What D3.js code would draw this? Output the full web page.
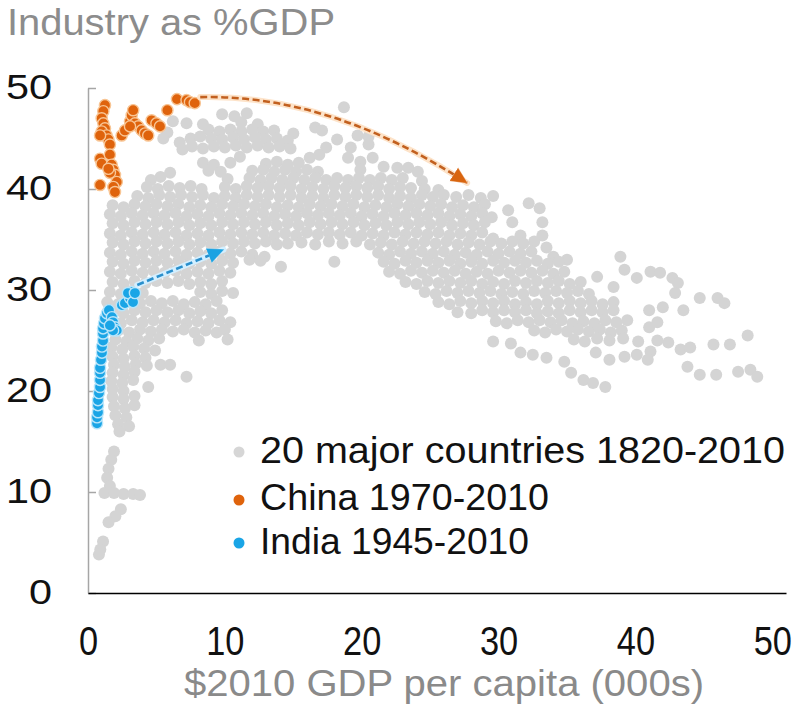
<!DOCTYPE html>
<html><head><meta charset="utf-8">
<script src="https://cdn.jsdelivr.net/npm/d3@7"></script>
<style>body{margin:0;background:#fff}svg{display:block;font-family:"Liberation Sans",Arial,sans-serif}</style>
</head><body>
<svg id="chart" width="808" height="705"></svg>
<script>
const xTicks=[0,10,20,30,40,50];
const yTicks=[0,10,20,30,40,50];
const legendLabels=["20 major countries 1820-2010","China 1970-2010","India 1945-2010"];
const titleText="Industry as %GDP";
const xTitleText="$2010 GDP per capita (000s)";

// 20 major countries 1820-2010: [GDP per capita (000s), industry % GDP]
const grayUpper=[[18.7,48.1],
[9.8,47.4],[10.7,47.2],[11.6,47.5],
[6.2,46.7],[7.2,46.5],[8.4,46.4],[11.2,46.6],[12.4,46.4],[16.6,46.1],
[5.8,45.6],[8.8,45.9],[9.6,45.7],[10.4,45.9],[11.2,45.7],[12.0,45.9],[12.8,45.7],[13.6,45.8],[15.0,45.5],[17.1,45.8],[19.7,45.3],[20.5,45.2],
[5.5,45.0],[6.7,44.6],[7.5,45.0],[8.2,45.2],[9.0,45.0],[9.8,44.9],[10.6,45.1],[11.4,44.9],[12.2,45.1],[13.0,44.9],[13.8,45.0],[14.6,44.8],[18.2,44.9],
[6.9,43.9],[7.6,44.2],[8.4,44.0],[9.2,44.2],[10.0,44.1],[10.8,44.3],[11.6,44.1],[12.4,44.3],[13.2,44.1],[14.0,44.2],[14.8,44.0],[17.4,44.1],[19.2,44.1],[20.5,44.4],
[11.1,43.2],[16.2,43.1],[16.9,43.4],[19.0,43.1],[20.8,43.1],
[8.4,42.6],[9.2,42.4],[10.4,42.6],[13.0,42.5],[13.8,42.7],[14.6,42.4],[15.4,42.6],[19.9,42.7],
[5.3,41.2],[6.0,41.6],[8.8,41.8],[9.7,41.7],[12.0,41.8],[12.8,41.9],[13.6,41.7],[14.4,41.9],[15.2,41.7],[16.0,41.9],[16.8,41.7],[19.9,41.9],[21.6,42.2],[22.6,42.1],[23.4,42.1],[24.1,41.7],
[4.6,40.9],[10.2,41.0],[11.8,41.1],[12.6,40.9],[13.4,41.1],[14.2,40.9],[15.0,41.1],[15.8,40.9],[16.6,41.1],[17.4,40.9],[18.2,41.1],[19.0,40.9],[19.8,41.1],[20.6,40.9],[21.4,41.1],[22.2,40.9],[23.0,41.1],[24.4,40.8]];

const grayCore=[
[4.3,40.2],[5.1,40.0],[5.9,40.3],[6.7,40.1],[7.5,40.3],[8.3,40.0],[10.0,40.2],[10.8,40.0],[11.6,40.3],[12.4,40.1],[13.2,40.3],[14.0,40.1],[14.8,40.3],[15.6,40.0],[16.4,40.2],[17.2,40.0],[18.0,40.3],[18.8,40.1],[19.6,40.3],[20.4,40.1],[21.2,40.3],[22.0,40.0],[22.8,40.2],[23.6,40.1],[24.6,40.0],[25.6,39.9],
[3.6,39.3],[4.4,39.1],[5.2,39.4],[6.0,39.2],[6.8,39.4],[7.6,39.2],[8.4,39.4],[9.2,39.1],[10.0,39.3],[10.8,39.1],[11.6,39.4],[12.4,39.2],[13.2,39.4],[14.0,39.2],[14.8,39.4],[15.6,39.1],[16.4,39.3],[17.2,39.1],[18.0,39.4],[18.8,39.2],[19.6,39.4],[20.4,39.2],[21.2,39.4],[22.0,39.1],[22.8,39.3],[23.6,39.1],[24.4,39.4],[25.2,39.2],[26.0,39.4],[26.9,39.2],[27.8,39.4],[28.7,39.1],[29.6,39.3],
[1.8,38.4],[2.6,38.2],[3.4,38.5],[4.2,38.3],[5.0,38.5],[5.8,38.3],[6.6,38.5],[7.4,38.2],[8.2,38.4],[9.0,38.2],[9.8,38.5],[10.6,38.3],[11.4,38.5],[12.2,38.3],[13.0,38.5],[13.8,38.2],[14.6,38.4],[15.4,38.2],[16.2,38.5],[17.0,38.3],[17.8,38.5],[18.6,38.3],[19.4,38.5],[20.2,38.2],[21.0,38.4],[21.8,38.2],[22.6,38.5],[23.4,38.3],[24.2,38.5],[25.0,38.3],[25.8,38.5],[26.6,38.2],[27.4,38.4],[28.2,38.2],[29.0,38.5],[30.7,37.9],[32.2,38.6],[33.0,38.1],
[1.6,37.5],[2.4,37.3],[3.2,37.6],[4.0,37.4],[4.8,37.6],[5.6,37.4],[6.4,37.6],[7.2,37.3],[8.0,37.5],[8.8,37.3],[9.6,37.6],[10.4,37.4],[11.2,37.6],[12.0,37.4],[12.8,37.6],[13.6,37.3],[14.4,37.5],[15.2,37.3],[16.0,37.6],[16.8,37.4],[17.6,37.6],[18.4,37.4],[19.2,37.6],[20.0,37.3],[20.8,37.5],[21.6,37.3],[22.4,37.6],[23.2,37.4],[24.0,37.6],[24.8,37.4],[25.6,37.6],[26.4,37.3],[27.2,37.5],[28.0,37.3],[28.8,37.6],[29.5,37.2],
[1.8,36.6],[2.6,36.4],[3.4,36.7],[4.2,36.5],[5.0,36.7],[5.8,36.5],[6.6,36.7],[7.4,36.4],[8.2,36.6],[9.0,36.4],[9.8,36.7],[10.6,36.5],[11.4,36.7],[12.2,36.5],[13.0,36.7],[13.8,36.4],[14.6,36.6],[15.4,36.4],[16.2,36.7],[17.0,36.5],[17.8,36.7],[18.6,36.5],[19.4,36.7],[20.2,36.4],[21.0,36.6],[21.8,36.4],[22.6,36.7],[23.4,36.5],[24.2,36.7],[25.0,36.5],[25.8,36.7],[26.6,36.4],[27.4,36.6],[28.2,36.4],[29.0,36.7],[31.0,36.7],[33.2,36.7],
[1.6,35.6],[2.4,35.4],[3.2,35.7],[4.0,35.5],[4.8,35.7],[5.6,35.5],[6.4,35.7],[7.2,35.4],[8.0,35.6],[8.8,35.4],[9.6,35.7],[10.4,35.5],[11.2,35.7],[12.0,35.5],[12.8,35.7],[13.6,35.4],[14.4,35.6],[15.2,35.4],[16.0,35.7],[16.8,35.5],[17.6,35.7],[18.4,35.5],[19.2,35.7],[20.0,35.4],[20.8,35.6],[21.6,35.4],[22.4,35.7],[23.2,35.5],[24.0,35.7],[24.8,35.5],[25.6,35.7],[26.4,35.4],[27.2,35.6],[28.0,35.4],[28.8,35.7],[29.6,35.1],[31.6,35.4],[33.2,35.4],
[1.8,34.7],[2.6,34.5],[3.4,34.8],[4.2,34.6],[5.0,34.8],[5.8,34.6],[6.6,34.8],[7.4,34.5],[8.2,34.7],[9.0,34.5],[9.8,34.8],[10.6,34.6],[11.4,34.8],[12.2,34.6],[13.0,34.8],[13.8,34.5],[14.6,34.6],[15.6,34.7],[16.6,34.5],[17.6,34.8],[18.6,34.6],[19.6,34.8],[20.6,34.5],[21.4,34.7],[22.2,34.5],[23.0,34.8],[23.8,34.6],[24.6,34.8],[25.4,34.6],[26.2,34.8],[27.0,34.5],[27.8,34.7],[28.6,34.5],[29.4,34.8],[30.2,34.6],[31.0,34.8],[31.8,34.6],[32.6,34.8],[33.5,34.2]];

const grayMid=[
[1.6,33.7],[2.4,33.5],[3.2,33.8],[4.0,33.6],[4.8,33.8],[5.6,33.6],[6.4,33.8],[7.2,33.5],[8.0,33.7],[8.8,33.5],[9.6,33.8],[10.4,33.6],[11.2,33.8],[12.0,33.5],[12.9,33.3],[21.2,33.7],[22.0,33.5],[22.8,33.8],[23.6,33.6],[24.4,33.8],[25.2,33.6],[26.0,33.8],[26.8,33.5],[27.6,33.7],[28.4,33.5],[29.2,33.8],[30.0,33.6],[30.8,33.8],[31.6,33.6],[32.4,33.8],[34.0,33.3],[35.0,33.0],
[1.8,32.8],[2.6,32.6],[3.4,32.9],[4.2,32.7],[5.0,32.9],[5.8,32.7],[6.6,32.9],[7.4,32.6],[8.2,32.8],[9.0,32.6],[9.8,32.9],[10.6,32.7],[11.8,33.0],[12.6,32.9],[14.1,32.3],[18.0,32.8],[21.6,32.8],[22.4,32.6],[23.2,32.9],[24.0,32.7],[24.8,32.9],[25.6,32.7],[26.4,32.9],[27.2,32.6],[28.0,32.8],[28.8,32.6],[29.6,32.9],[30.4,32.7],[31.2,32.9],[32.0,32.7],[32.8,32.9],[33.6,32.6],[34.4,32.8],[38.9,33.3],
[1.6,31.8],[2.4,31.6],[3.2,31.9],[4.0,31.7],[4.8,31.9],[5.6,31.7],[6.4,31.9],[7.2,31.6],[8.0,31.8],[8.8,31.6],[9.6,31.9],[10.4,31.7],[22.0,31.8],[22.8,31.6],[23.6,31.9],[24.4,31.7],[25.2,31.9],[26.0,31.7],[26.8,31.9],[27.6,31.6],[28.4,31.8],[29.2,31.6],[30.0,31.9],[30.8,31.7],[31.6,31.9],[32.4,31.7],[33.2,31.9],[34.0,31.6],[34.8,31.8],[39.2,32.0],[41.1,31.8],[41.8,31.7],
[1.8,30.8],[2.6,30.6],[3.4,30.9],[4.2,30.7],[5.0,30.9],[5.8,30.7],[6.6,30.9],[7.4,30.6],[8.2,30.8],[9.0,30.6],[9.8,30.9],[23.2,30.8],[24.0,30.6],[24.8,30.9],[25.6,30.7],[26.4,30.9],[27.2,30.7],[28.0,30.9],[28.8,30.6],[29.6,30.8],[30.4,30.6],[31.2,30.9],[32.0,30.7],[32.8,30.9],[33.6,30.7],[34.4,30.9],[35.2,30.6],[36.0,30.8],[37.2,31.3],[40.1,31.2],[42.7,31.2],[43.1,30.7],
[1.6,29.8],[2.4,29.6],[3.2,29.9],[4.0,29.7],[8.2,29.8],[9.0,29.6],[9.8,29.9],[10.6,29.7],[24.6,29.8],[25.4,29.6],[26.2,29.9],[27.0,29.7],[27.8,29.9],[28.6,29.7],[29.4,29.9],[30.2,29.6],[31.0,29.8],[31.8,29.6],[32.6,29.9],[33.4,29.7],[34.2,29.9],[35.0,29.7],[35.8,29.9],[36.6,29.6],[38.4,30.3],[42.9,29.7],
[1.4,28.8],[2.2,28.6],[3.0,28.9],[3.8,28.7],[4.6,28.9],[5.4,28.7],[6.2,28.9],[7.0,28.6],[7.8,28.8],[8.6,28.6],[9.4,28.9],[25.6,28.8],[26.4,28.6],[27.2,28.9],[28.0,28.7],[28.8,28.9],[29.6,28.7],[30.4,28.9],[31.2,28.6],[32.0,28.8],[32.8,28.6],[33.6,28.9],[34.4,28.7],[35.2,28.9],[36.0,28.7],[36.8,28.9],[37.6,28.6],[38.4,28.8],[44.7,29.2],[46.0,29.2],[46.5,28.7],
[1.8,27.9],[2.6,27.7],[3.4,28.0],[4.2,27.8],[5.0,28.0],[5.8,27.8],[6.6,28.0],[7.4,27.7],[8.2,27.9],[9.0,27.7],[9.8,28.0],[27.0,27.8],[28.0,27.7],[28.8,28.0],[29.6,27.8],[30.4,28.0],[31.2,27.8],[32.0,28.0],[32.8,27.7],[33.6,27.9],[34.4,27.7],[35.2,28.0],[36.0,27.8],[36.8,28.0],[37.6,27.8],[38.4,28.0],[41.0,28.0],[42.0,28.3],[43.5,28.0],
[1.6,26.9],[2.4,26.7],[3.2,27.0],[4.0,26.8],[4.8,27.0],[5.6,26.8],[6.4,27.0],[7.2,26.7],[8.0,26.9],[8.8,26.7],[9.6,27.0],[10.4,26.8],[29.8,26.9],[30.6,26.7],[31.4,27.0],[32.2,26.8],[33.0,27.0],[33.8,26.8],[34.6,27.0],[35.4,26.7],[36.2,26.9],[37.0,26.7],[37.8,27.0],[38.6,26.8],[39.4,27.0],[41.6,26.8]];

const grayLow=[
[2.2,26.0],[3.0,25.8],[3.8,26.1],[4.6,25.9],[5.4,26.1],[6.2,25.9],[7.0,26.1],[7.8,25.8],[8.6,26.0],[9.4,25.8],[10.0,26.1],[32.6,26.0],[33.4,25.8],[34.2,26.1],[35.0,25.9],[35.8,26.1],[36.6,25.9],[37.4,26.1],[38.2,25.8],[39.0,26.0],[41.0,26.3],
[2.0,25.1],[2.8,24.9],[3.6,25.2],[4.4,25.0],[5.2,25.2],[8.1,25.0],[10.2,25.1],[29.6,24.9],[30.9,24.7],[35.5,25.1],[36.3,24.9],[37.2,25.2],[38.1,25.0],[39.1,25.2],[40.2,24.9],[41.6,25.0],[42.4,24.8],[48.2,25.5],
[1.7,24.3],[2.5,24.1],[3.3,24.4],[4.1,24.2],[4.9,24.0],[31.6,23.8],[32.5,23.6],[37.1,23.8],[43.3,24.1],[44.0,24.3],[45.7,24.6],[46.9,24.6],
[1.8,23.4],[2.6,23.2],[3.4,23.5],[4.2,23.3],[33.5,23.3],[34.8,22.9],[38.1,23.1],[39.2,23.4],[40.1,23.6],[41.1,23.9],[40.9,23.1],
[1.9,22.6],[2.7,22.4],[3.5,22.7],[4.3,22.5],[5.3,22.6],[6.0,22.6],[43.8,22.4],
[1.8,21.8],[2.6,21.6],[3.4,21.9],[7.2,21.4],[35.3,21.8],[44.7,21.6],[45.9,21.6],[47.5,21.9],[48.4,22.1],
[1.7,21.0],[2.5,20.8],[3.3,21.1],[36.2,21.1],[36.9,20.8],[48.9,21.4],
[1.8,20.2],[2.6,20.0],[4.4,20.4],[37.8,20.4],
[1.8,19.4],[2.6,19.2],[3.4,19.5],[1.9,18.5],[2.7,18.3],[3.4,18.6],
[2.0,17.6],[2.8,17.4],[2.2,16.7],[3.0,16.5],[2.3,16.0],
[1.9,14.0],[1.7,13.2],[1.5,12.3],[1.4,11.4],[1.6,10.6],[1.2,9.9],[1.9,9.9],[2.6,9.8],[3.3,9.8],[3.8,9.7],
[2.4,8.3],[2.0,7.6],[1.5,7.0],[1.1,5.1],[0.9,4.3],[0.8,3.8]];

const china=[[1.24,48.3],[1.12,47.7],[1.0,47.0],[1.12,46.5],[1.24,46.0],[1.0,45.7],[1.36,45.3],[1.49,44.9],[1.6,44.4],[0.88,45.3],
[0.88,43.0],[1.0,42.5],[1.6,43.4],[1.73,42.4],[1.85,41.9],[1.97,41.4],[1.6,41.6],[2.1,40.7],[0.88,40.4],[1.85,40.2],[1.97,39.7],[1.49,42.0],
[2.46,45.3],[2.7,45.8],[3.07,46.7],[3.19,47.3],[3.3,47.8],[3.43,46.5],[3.67,46.2],[3.92,45.8],[4.16,45.5],[4.4,45.3],[3.07,46.2],
[4.65,46.8],[5.0,46.5],[5.26,46.2],[5.8,47.8],[6.5,48.9],[7.2,48.8],[7.45,48.6],[7.8,48.5]];

const india=[[0.66,16.8],[0.66,17.4],[0.73,17.9],[0.73,18.6],[0.73,19.1],[0.8,19.8],[0.88,20.4],[0.88,21.1],[0.88,21.8],[0.88,22.3],
[0.95,23.1],[1.02,23.8],[1.02,24.4],[1.1,25.0],[1.1,25.7],[1.1,26.2],[1.17,26.7],[1.24,27.2],[1.39,27.7],[1.53,28.0],
[1.75,27.3],[1.83,26.8],[1.97,26.3],[2.1,26.0],[1.83,26.0],[1.6,26.5],[2.48,28.5],[2.7,28.7],[3.07,29.2],[3.2,29.8],[2.92,29.7],[3.29,28.8],[3.43,29.7]];

const chinaArrow=[[8.2,49.1],[17.7,49.4],[27.7,40.6]];
const indiaArrow=[[3.6,30.5],[9.9,34.0]];

const svg=d3.select("#chart");
const x=d3.scaleLinear().domain([0,51]).range([88,786]);
const y=d3.scaleLinear().domain([0,50]).range([593,88]);

// title
svg.append("text").attr("x",7).attr("y",35).attr("font-size",37).attr("fill","#8c8c8c")
  .attr("textLength",328).attr("lengthAdjust","spacingAndGlyphs").text(titleText);

// y axis
const gy=svg.append("g").attr("transform",`translate(${x(0)},0)`)
  .call(d3.axisLeft(y).tickValues(yTicks).tickSizeInner(-8).tickSizeOuter(0).tickPadding(36).tickFormat(d3.format("d")));
gy.select(".domain").attr("stroke","#a6a6a6").attr("stroke-width",1.5);
gy.selectAll(".tick line").attr("stroke","#a6a6a6").attr("stroke-width",1.5);
gy.selectAll(".tick text").attr("font-size",36).attr("fill","#111").attr("font-family","Liberation Sans, Arial, sans-serif")
  .attr("x",0).attr("dy","0.28em").attr("transform","translate(-36,0) scale(1.15,1)");

// x axis
const gx=svg.append("g").attr("transform",`translate(0,${y(0)})`)
  .call(d3.axisBottom(x).tickValues(xTicks).tickSize(0).tickSizeOuter(0).tickFormat(d3.format("d")));
gx.select(".domain").attr("stroke","#000").attr("stroke-width",1.5);
gx.selectAll(".tick text").attr("font-size",40).attr("fill","#111").attr("font-family","Liberation Sans, Arial, sans-serif")
  .attr("y",0).attr("dy",0).attr("transform","translate(0,62) scale(0.86,1)");

// x title
svg.append("text").attr("x",184).attr("y",696).attr("font-size",36).attr("fill","#8a8a8a")
  .attr("textLength",520).attr("lengthAdjust","spacingAndGlyphs").text(xTitleText);

// gray points
const gray=[].concat(grayUpper,grayCore,grayMid,grayLow);
svg.append("g").selectAll("circle").data(gray).join("circle")
  .attr("cx",d=>x(d[0])).attr("cy",d=>y(d[1])).attr("r",6).attr("fill","#d4d4d4");

// china
svg.append("g").selectAll("circle").data(china).join("circle")
  .attr("cx",d=>x(d[0])).attr("cy",d=>y(d[1])).attr("r",5.6).attr("fill","#df630c")
  .attr("stroke","#f8c594").attr("stroke-width",1.4);
// india
svg.append("g").selectAll("circle").data(india).join("circle")
  .attr("cx",d=>x(d[0])).attr("cy",d=>y(d[1])).attr("r",5.6).attr("fill","#1aa5e6")
  .attr("stroke","#b9e5fa").attr("stroke-width",1.4);

// arrow markers
const defs=svg.append("defs");
function marker(id,fill){
  defs.append("marker").attr("id",id).attr("viewBox","0 -9 18 18").attr("refX",16).attr("refY",0)
    .attr("markerWidth",18).attr("markerHeight",18).attr("markerUnits","userSpaceOnUse").attr("orient","auto")
    .append("path").attr("d","M0,-8L17,0L0,8Z").attr("fill",fill).attr("stroke","#ffffff").attr("stroke-opacity",0.3);
}
marker("arrO","#d9650f");marker("arrB","#1ba2e2");

const cp=d3.path();
cp.moveTo(x(chinaArrow[0][0]),y(chinaArrow[0][1]));
cp.quadraticCurveTo(x(chinaArrow[1][0]),y(chinaArrow[1][1]),x(chinaArrow[2][0]),y(chinaArrow[2][1]));
svg.append("path").attr("d",cp.toString()).attr("fill","none").attr("stroke","#fde3c9").attr("stroke-width",6).attr("stroke-linecap","round");
svg.append("path").attr("d",cp.toString()).attr("fill","none").attr("stroke","#c2601f").attr("stroke-width",2.6)
  .attr("stroke-dasharray","7,3.5").attr("marker-end","url(#arrO)");

const ip=d3.line().x(d=>x(d[0])).y(d=>y(d[1]))(indiaArrow);
svg.append("path").attr("d",ip).attr("fill","none").attr("stroke","#d3efff").attr("stroke-width",6).attr("stroke-linecap","round");
svg.append("path").attr("d",ip).attr("fill","none").attr("stroke","#2a8fcc").attr("stroke-width",2.6)
  .attr("stroke-dasharray","7,3.5").attr("marker-end","url(#arrB)");

// legend
const legColors=["#d6d6d6","#df630c","#1aa5e6"];
const legDotY=[452,500,543];
const legTextY=[463,510,554];
const legWidths=[525,289,269];
const lg=svg.append("g");
legendLabels.forEach((t,i)=>{
  lg.append("circle").attr("cx",239).attr("cy",legDotY[i]).attr("r",5.5).attr("fill",legColors[i]);
  lg.append("text").attr("x",260).attr("y",legTextY[i]).attr("font-size",37).attr("fill","#111")
    .attr("textLength",legWidths[i]).attr("lengthAdjust","spacingAndGlyphs").text(t);
});
</script>
</body></html>
